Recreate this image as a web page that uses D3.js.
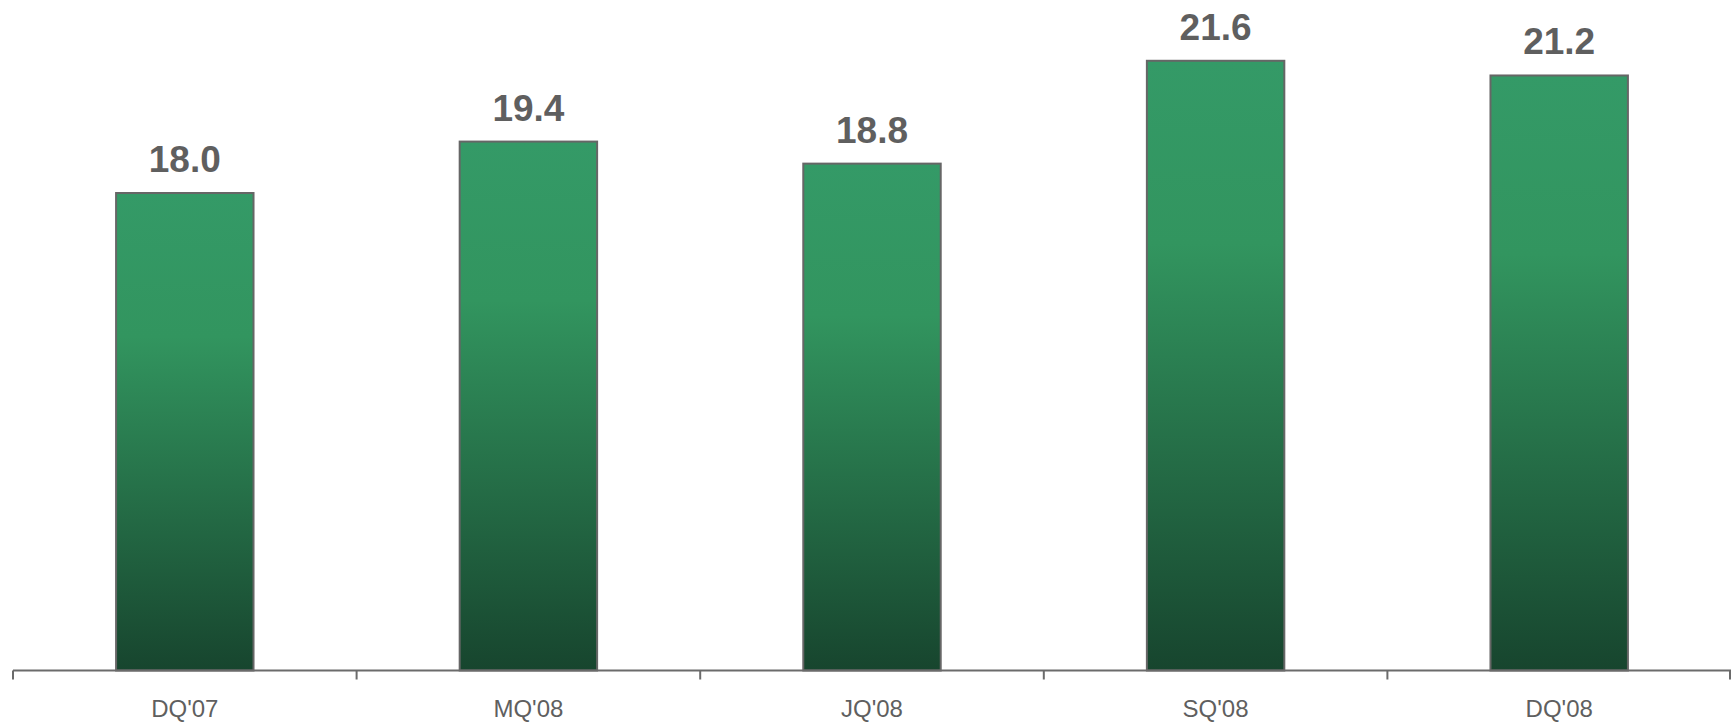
<!DOCTYPE html>
<html>
<head>
<meta charset="utf-8">
<title>Quarterly bars</title>
<style>
body { margin: 0; background: #fff; }
.axis path, .axis line { stroke: #6b6b6b; stroke-width: 2px; }
.axis text { font: 24px "Liberation Sans", Arial, sans-serif; fill: #5f5f5f; }
.bar { stroke: #666; stroke-width: 2px; }
.label { font: bold 37px "Liberation Sans", Arial, sans-serif; fill: #5f5f5f; text-anchor: middle; }
</style>
</head>
<body>
<script src="https://d3js.org/d3.v7.min.js"></script>
<script>
var quarters = ["DQ'07", "MQ'08", "JQ'08", "SQ'08", "DQ'08"];
var values = [18.0, 19.4, 18.8, 21.6, 21.2];

var width = 1731,
    height = 723,
    baseY = 670.5;

var svg = d3.select("body").append("svg")
    .attr("width", width)
    .attr("height", height);

var x = d3.scaleBand()
    .domain(quarters)
    .range([13, 1731])
    .paddingInner(0.6)
    .paddingOuter(0.3);

var y = d3.scaleLinear()
    .domain([5, 23])
    .range([baseY, baseY - 18 * 36.73]);

// gradient for each bar, light at the top going dark at the bottom
var grad = svg.append("defs").append("linearGradient")
    .attr("id", "barFill")
    .attr("x1", 0).attr("y1", 0)
    .attr("x2", 0).attr("y2", 1);
grad.append("stop").attr("offset", "0%").attr("stop-color", "#349a67");
grad.append("stop").attr("offset", "30%").attr("stop-color", "#32955f");
grad.append("stop").attr("offset", "100%").attr("stop-color", "#17452e");

svg.selectAll(".bar")
    .data(values)
  .enter().append("rect")
    .attr("class", "bar")
    .attr("fill", "url(#barFill)")
    .attr("x", function(d, i) { return x(quarters[i]); })
    .attr("width", x.bandwidth())
    .attr("y", function(d) { return y(d); })
    .attr("height", function(d) { return baseY - y(d); });

svg.selectAll(".label")
    .data(values)
  .enter().append("text")
    .attr("class", "label")
    .attr("x", function(d, i) { return x(quarters[i]) + x.bandwidth() / 2; })
    .attr("y", function(d) { return y(d) - 21; })
    .text(function(d) { return d.toFixed(1); });

// axis with ticks between the categories
var axisG = svg.append("g")
    .attr("class", "axis")
    .attr("transform", "translate(0," + baseY + ")");

axisG.append("line")
    .attr("x1", 13).attr("x2", 1731);

var step = x.step();
var edges = quarters.map(function(q) { return x(q) - (step - x.bandwidth()) / 2; });
edges.push(edges[edges.length - 1] + step);

axisG.selectAll(".tick")
    .data(edges)
  .enter().append("line")
    .attr("class", "tick")
    .attr("x1", function(d) { return Math.min(d, 1730); })
    .attr("x2", function(d) { return Math.min(d, 1730); })
    .attr("y1", 0).attr("y2", 9);

axisG.selectAll(".cat")
    .data(quarters)
  .enter().append("text")
    .attr("class", "cat")
    .attr("text-anchor", "middle")
    .attr("x", function(d) { return x(d) + x.bandwidth() / 2; })
    .attr("y", 46)
    .text(function(d) { return d; });
</script>
</body>
</html>
